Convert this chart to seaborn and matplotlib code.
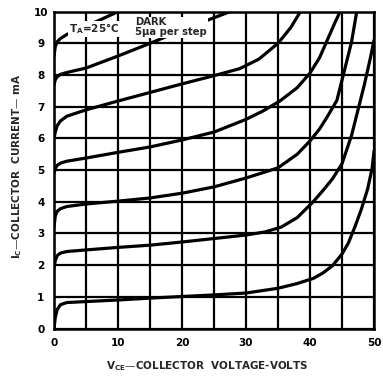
import matplotlib
matplotlib.use("Agg")
import matplotlib.pyplot as plt
import seaborn as sns
import pandas as pd

# ---------------- DATOS ----------------
# Vce (V) -> Ic (mA), una curva por paso de iluminacion
vce_1 = [0, 0.2, 0.5, 1, 2, 5, 10, 15, 20, 25, 30, 35, 38, 40.5, 42, 43.5, 45, 46, 47, 48, 49, 49.7, 50]
ic_1 = [0, 0.35, 0.6, 0.75, 0.82, 0.85, 0.9, 0.96, 1.01, 1.06, 1.12, 1.27, 1.42, 1.58, 1.75, 1.98, 2.35, 2.7, 3.2, 3.75, 4.4, 5.05, 5.6]

vce_2 = [0, 0.2, 0.5, 1, 2, 5, 10, 15, 20, 25, 30, 33, 35.5, 38, 40.5, 42, 43.5, 45, 46.5, 47.5, 48.5, 49.5, 50]
ic_2 = [1.9, 2.15, 2.3, 2.38, 2.43, 2.48, 2.56, 2.63, 2.73, 2.84, 2.95, 3.05, 3.2, 3.5, 4.0, 4.35, 4.72, 5.2, 6.1, 6.9, 7.7, 8.6, 9.1]

vce_3 = [0, 0.2, 0.5, 1, 2, 5, 10, 15, 20, 25, 30, 35, 38, 40, 41.5, 42.6, 44.2, 45.2, 46.5, 47.3]
ic_3 = [3.2, 3.55, 3.7, 3.78, 3.85, 3.93, 4.02, 4.12, 4.27, 4.47, 4.75, 5.07, 5.5, 5.92, 6.3, 6.65, 7.2, 8.0, 9.05, 10.0]

vce_4 = [0, 0.2, 0.5, 1, 2, 5, 10, 15, 20, 25, 30, 32.7, 35.3, 38, 40, 41.5, 42.8, 44, 44.7]
ic_4 = [4.9, 5.05, 5.15, 5.22, 5.28, 5.38, 5.56, 5.73, 5.95, 6.2, 6.6, 6.87, 7.18, 7.6, 8.06, 8.55, 9.15, 9.7, 10.0]

vce_5 = [0, 0.2, 0.5, 1, 2, 5, 10, 15, 20, 25, 29, 32, 35, 37, 38.5]
ic_5 = [6.0, 6.2, 6.4, 6.55, 6.7, 6.9, 7.18, 7.45, 7.72, 7.98, 8.2, 8.5, 9.0, 9.5, 10.0]

vce_6 = [0, 0.2, 0.5, 1, 2, 5, 10, 15, 21, 27.5]
ic_6 = [7.7, 7.85, 7.95, 8.02, 8.08, 8.22, 8.6, 9.0, 9.5, 10.0]

vce_7 = [0, 0.2, 0.5, 1, 2, 3, 5, 7, 10]
ic_7 = [8.6, 8.9, 9.05, 9.15, 9.28, 9.37, 9.55, 9.72, 10.0]

CURVAS = [(vce_1, ic_1), (vce_2, ic_2), (vce_3, ic_3), (vce_4, ic_4),
          (vce_5, ic_5), (vce_6, ic_6), (vce_7, ic_7)]

X_TICKS = [0, 10, 20, 30, 40, 50]
Y_TICKS = list(range(0, 11))
X_GRID = list(range(0, 51, 5))

# ---------------- FIGURA ----------------
sns.set_theme(style="white")
plt.rcParams["font.family"] = ["DejaVu Sans"]
plt.rcParams["font.weight"] = "bold"
plt.rcParams["mathtext.default"] = "bf"

fig = plt.figure(figsize=(3.83, 3.76), dpi=100)
ax = fig.add_axes([0.141, 0.1263, 0.8355, 0.8427])

filas = []
for i, (xs, ys) in enumerate(CURVAS):
    for x, y in zip(xs, ys):
        filas.append({"vce": x, "ic": y, "curva": i})
df = pd.DataFrame(filas)

sns.lineplot(data=df, x="vce", y="ic", units="curva", estimator=None,
             sort=False, color="black", linewidth=2.3, ax=ax, zorder=3)

ax.set_xlim(0, 50)
ax.set_ylim(0, 10)
ax.set_xticks(X_GRID)
ax.set_xticklabels([str(v) if v in X_TICKS else "" for v in X_GRID])
ax.set_yticks(Y_TICKS)
ax.set_yticklabels([str(v) for v in Y_TICKS])
ax.grid(True, color="black", linewidth=1.6)
ax.set_axisbelow(True)
for s in ax.spines.values():
    s.set_color("black")
    s.set_linewidth(1.8)
ax.tick_params(axis="both", length=0, labelsize=7.5, colors="black")
ax.tick_params(axis="x", pad=7)
ax.tick_params(axis="y", pad=9.5)
for lbl in ax.get_yticklabels():
    lbl.set_horizontalalignment("center")
ax.set_xlabel("")
ax.set_ylabel("")

caja = dict(facecolor="white", edgecolor="none", pad=0.6)
ax.text(6.3, 9.45, r"$T_A$=25°C", fontsize=7.5, ha="center", va="center",
        bbox=caja, zorder=4)
ax.text(12.7, 9.5, "DARK\n5\u00b5a per step", fontsize=7.2, ha="left", va="center",
        linespacing=1.0, bbox=caja, zorder=4)

fig.text(0.542, 0.027, r"$V_{CE}$—COLLECTOR  VOLTAGE-VOLTS", fontsize=7.5,
         ha="center", va="center")
fig.text(0.044, 0.557, r"$I_C$—COLLECTOR  CURRENT— mA", fontsize=7.5,
         ha="center", va="center", rotation=90)

fig.savefig("out.png", dpi=100, facecolor="white")
